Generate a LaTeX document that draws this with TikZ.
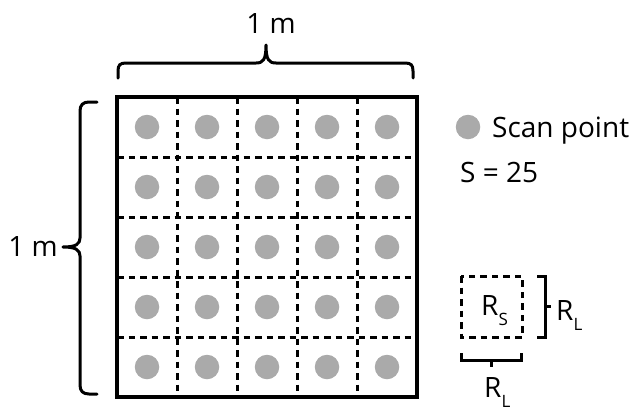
\documentclass[tikz,border=0pt]{standalone}
\usepackage{fontspec}
\setmainfont{Open Sans}
\definecolor{dotgray}{RGB}{170,170,170}
\newcommand{\mysub}[1]{\raisebox{-0.36em}{\fontsize{17}{17}\selectfont #1}}
\begin{document}
\begin{tikzpicture}[x=1pt,y=-1pt,
  frame/.style={line width=3.2pt},
  gridline/.style={line width=3pt, dash pattern=on 6.5pt off 5pt},
  scandot/.style={circle, fill=dotgray, minimum size=24.5pt, inner sep=0pt},
  bracestyle/.style={line width=3pt, line join=round, line cap=round},
  sqbrace/.style={line width=3pt, line join=miter},
  lbl/.style={font=\fontsize{28}{32}\selectfont, inner sep=0pt}]
\useasboundingbox (0,0) rectangle (644,410);
% grid dots
\foreach \i in {0,...,4}{
  \foreach \j in {0,...,4}{
    \node[scandot] (p-\i-\j) at ({147+60*\i},{127+60*\j}) {};
  }
}
% dashed cell lines
\foreach \k in {1,...,4}{
  \draw[gridline] ({117+60*\k},97) -- ({117+60*\k},397);
  \draw[gridline] (117,{97+60*\k}) -- (417,{97+60*\k});
}
% frame
\draw[frame] (117,97) rectangle (417,397);
% top brace
\draw[bracestyle] (118,78) -- (118,71) .. controls (118,65) and (120,63) .. (126,63)
  -- (256,63) .. controls (263,63) and (266,60) .. (266,45)
  .. controls (266,60) and (269,63) .. (276,63)
  -- (405,63) .. controls (411,63) and (413,65) .. (413,71) -- (413,78);
\node[lbl, anchor=base] (topm) at (271,33) {1 m};
% left brace
\draw[bracestyle] (97,102) -- (89,102) .. controls (83,102) and (80,105) .. (80,111)
  -- (80,238) .. controls (80,244) and (76,247) .. (63,247)
  .. controls (76,247) and (80,250) .. (80,256)
  -- (80,385) .. controls (80,391) and (83,394) .. (89,394) -- (97,394);
\node[lbl, anchor=base east] (leftm) at (58,256) {1 m};
% legend
\node[scandot] (legdot) at (468,127) {};
\node[lbl, anchor=base west] (scanlbl) at (492,137) {Scan point};
\node[lbl, anchor=base west] (slbl) at (460,182) {S = 25};
% small region box
\draw[gridline] (461,276) rectangle (522,337);
\node[lbl, anchor=base west] (rs) at (481,315) {R\mysub{S}};
\draw[sqbrace] (537,276) -- (545,276) -- (545,337) -- (537,337);
\draw[sqbrace] (545,306.5) -- (551,306.5);
\node[lbl, anchor=base west] (rlright) at (556,320) {R\mysub{L}};
\draw[sqbrace] (461,353) -- (461,360) -- (521,360) -- (521,353);
\draw[sqbrace] (491,360) -- (491,367);
\node[lbl, anchor=base west] (rlbottom) at (484,397) {R\mysub{L}};
\end{tikzpicture}
\end{document}
